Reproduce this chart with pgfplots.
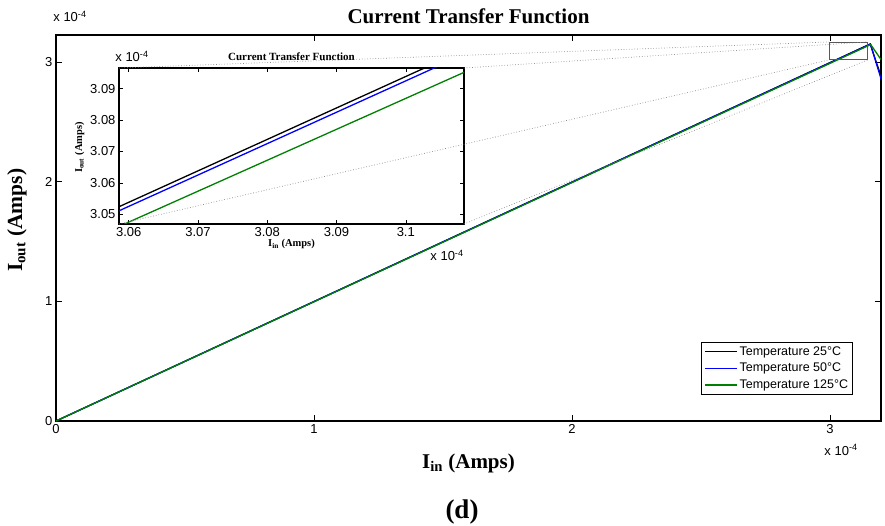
\documentclass[border=0pt]{standalone}
\usepackage{pgfplots}
\usepackage{pgfplotstable}
\pgfplotsset{compat=1.18}
\usepackage{fontspec}
\setmainfont{Liberation Serif}
\newfontfamily\arial{Liberation Sans}

\definecolor{mblue}{RGB}{0,0,255}
\definecolor{mgreen}{RGB}{0,128,0}

% I_in and I_out in units of 1e-4 A
\pgfplotstableread{
x       y
0       0
3.0586  3.0524
3.1027  3.0966
3.156   3.150
3.198   2.880
}\tblack
\pgfplotstableread{
x       y
0       0
3.0586  3.0511
3.1041  3.0966
3.157   3.149
3.198   2.860
}\tblue
\pgfplotstableread{
x       y
0       0
3.0594  3.0469
3.1084  3.0952
3.158   3.145
3.198   3.020
}\tgreen

\begin{document}
\begin{tikzpicture}[x=1pt,y=1pt]
\path[use as bounding box] (0,0) rectangle (885,525);

\begin{axis}[
    name=main,
    at={(56pt,104pt)}, anchor=south west,
    scale only axis, width=825pt, height=386pt,
    xmin=0, xmax=3.198, ymin=0, ymax=3.225,
    xtick={0,1,2,3}, ytick={0,1,2,3},
    tick label style={font=\arial\fontsize{13}{14}\selectfont},
    /pgf/number format/assume math mode=true,
    tick align=inside, major tick length=6pt,
    every tick/.style={black, line width=0.6pt},
    axis line style={line width=1.2pt, black},
    title={Current Transfer Function},
    title style={font=\fontsize{21}{22}\selectfont\bfseries, at={(rel axis cs:0.5,1)}, anchor=base, yshift=5pt},
    xlabel={I\textsubscript{in} (Amps)},
    xlabel style={font=\fontsize{21}{23}\selectfont\bfseries, at={(rel axis cs:0.5,0)}, anchor=base, yshift=-47pt},
    ylabel={I\textsubscript{out} (Amps)},
    ylabel style={font=\fontsize{21.5}{23}\selectfont\bfseries, at={(rel axis cs:-0.041,0.52)}, anchor=base, rotate=0},
    legend style={at={(rel axis cs:0.966,0.2047)}, anchor=north east, draw=black, line width=0.8pt,
        font=\arial\fontsize{12.5}{14}\selectfont, inner xsep=3pt, inner ysep=2.5pt,
        row sep=3.5pt, nodes={inner sep=1.5pt}, cells={anchor=west}},
    legend image code/.code={\draw[#1, line width=1.2pt] (-4pt,0pt) -- (28pt,0pt);},
]
\addplot[black, line width=1.3pt] table {\tblack};
\addlegendentry{Temperature 25\textdegree C}
\addplot[mblue, line width=1.3pt] table {\tblue};
\addlegendentry{Temperature 50\textdegree C}
\addplot[mgreen, line width=1.3pt] table {\tgreen};
\addlegendentry{Temperature 125\textdegree C}
\draw[black!65, line width=0.8pt] (axis cs:2.996,3.017) rectangle (axis cs:3.147,3.167);
\coordinate (rbl) at (axis cs:2.996,3.017);
\coordinate (rbr) at (axis cs:3.147,3.017);
\coordinate (rtl) at (axis cs:2.996,3.167);
\coordinate (rtr) at (axis cs:3.147,3.167);
\end{axis}

\begin{axis}[
    name=inset,
    at={(119pt,301pt)}, anchor=south west,
    scale only axis, width=345pt, height=156pt,
    axis background/.style={fill=white},
    xmin=3.0586, xmax=3.1084, ymin=3.0469, ymax=3.0966,
    restrict x to domain=3:3.3,
    xtick={3.06,3.07,3.08,3.09,3.10}, xticklabels={3.06,3.07,3.08,3.09,3.1},
    ytick={3.05,3.06,3.07,3.08,3.09}, yticklabels={3.05,3.06,3.07,3.08,3.09},
    tick label style={font=\arial\fontsize{13}{14}\selectfont},
    tick align=inside, major tick length=4pt,
    every tick/.style={black, line width=0.6pt},
    axis line style={line width=1.2pt, black},
    title={Current Transfer Function},
    title style={font=\fontsize{11}{12}\selectfont\bfseries, at={(rel axis cs:0.5,1)}, anchor=base, yshift=1pt},
    xlabel={I\textsubscript{in} (Amps)},
    xlabel style={font=\fontsize{10.5}{12}\selectfont\bfseries, at={(rel axis cs:0.5,0)}, anchor=base, yshift=-23pt},
    ylabel={I\textsubscript{out} (Amps)},
    ylabel style={font=\fontsize{10.5}{12}\selectfont\bfseries, at={(rel axis cs:-0.107,0.49)}, anchor=base, rotate=0},
]
\addplot[black, line width=1.3pt, forget plot] table {\tblack};
\addplot[mblue, line width=1.3pt, forget plot] table {\tblue};
\addplot[mgreen, line width=1.3pt, forget plot] table {\tgreen};
\end{axis}

\draw[black!45, dotted, line width=0.7pt] (inset.south west) -- (rbl);
\draw[black!45, dotted, line width=0.7pt] (inset.south east) -- (rbr);
\draw[black!45, dotted, line width=0.7pt] (inset.north west) -- (rtl);
\draw[black!45, dotted, line width=0.7pt] (inset.north east) -- (rtr);

\node[font=\arial\fontsize{13}{14}\selectfont, anchor=base] at (70,503) {x 10\textsuperscript{-4}};
\node[font=\arial\fontsize{13}{14}\selectfont, anchor=base] at (841,70) {x 10\textsuperscript{-4}};
\node[font=\arial\fontsize{13}{14}\selectfont, anchor=base] at (132,463) {x 10\textsuperscript{-4}};
\node[font=\arial\fontsize{13}{14}\selectfont, anchor=base] at (447,264) {x 10\textsuperscript{-4}};
\node[font=\fontsize{27}{29}\selectfont\bfseries, anchor=base] at (462,7) {(d)};
\end{tikzpicture}
\end{document}
